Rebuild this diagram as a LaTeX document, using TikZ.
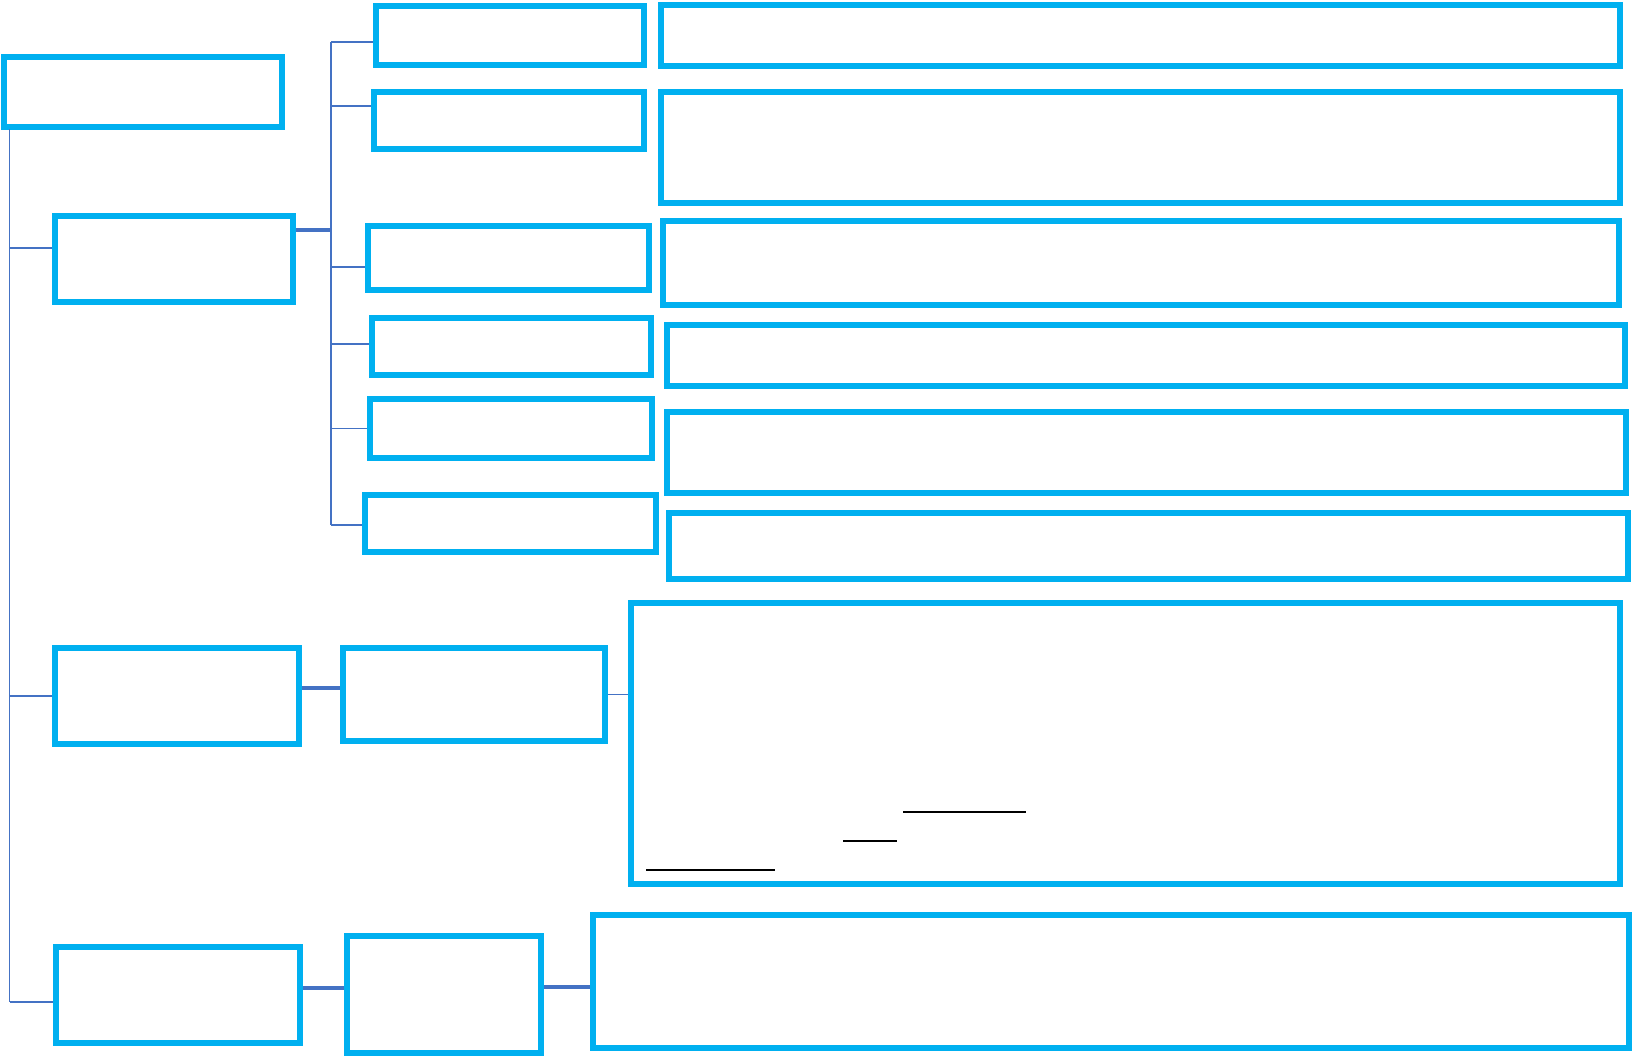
\documentclass[tikz,border=0pt]{standalone}
\usetikzlibrary{calc}
\definecolor{boxc}{HTML}{00B0F0}
\definecolor{linkc}{HTML}{4472C4}
\tikzset{
  box/.style={draw=boxc, line width=6pt, inner sep=0pt, fill=white},
  thinc/.style={draw=linkc, line width=1.4pt},
  thickc/.style={draw=linkc, line width=4pt},
  uline/.style={draw=black, line width=1.3pt}
}
\newcommand{\bx}[5]{%
  \pgfmathsetmacro{\bw}{#4-#2-6}%
  \pgfmathsetmacro{\bh}{#5-#3-6}%
  \pgfmathsetmacro{\bcx}{(#2+#4)/2}%
  \pgfmathsetmacro{\bcy}{(#3+#5)/2}%
  \node[box, minimum width=\bw pt, minimum height=\bh pt] (#1) at (\bcx,\bcy) {};%
}
\begin{document}
\begin{tikzpicture}[x=1pt,y=-1pt]
\useasboundingbox[fill=white] (0,0) rectangle (1634,1058);
\coordinate (tr) at (9.5,129);
\coordinate (br) at (331,42);
% boxes
\bx{root}{1}{54}{285}{130}
\bx{A1}{52}{213}{296}{305}
\bx{A2}{52}{645}{302}{747}
\bx{A3}{53}{944}{303}{1046}
\bx{B1}{373}{3}{647}{68}
\bx{B2}{371}{89}{647}{152}
\bx{B3}{365}{223}{652}{293}
\bx{B4}{369}{315}{654}{378}
\bx{B5}{367}{396}{655}{461}
\bx{B6}{362}{492}{659}{555}
\bx{C1}{658}{2}{1623}{69}
\bx{C2}{658}{89}{1623}{206}
\bx{C3}{660}{218}{1622}{308}
\bx{C4}{664}{322}{1628}{389}
\bx{C5}{664}{409}{1629}{496}
\bx{C6}{666}{510}{1631}{582}
\bx{D2}{340}{645}{608}{744}
\bx{E2}{628}{600}{1623}{887}
\bx{D3}{344}{933}{544}{1056}
\bx{E3}{590}{912}{1632}{1051}
% trunk and branches
\draw[thinc] (tr) -- ([yshift=-7pt]tr |- A3.west);
\draw[thinc] ([yshift=11pt]tr |- A1.west) -- ([yshift=11pt]A1.west);
\draw[thinc] (tr |- A2.west) -- (A2.west);
\draw[thinc] ([yshift=-7pt]tr |- A3.west) -- ([yshift=-7pt]A3.west);
% bracket for B boxes
\draw[thinc, line width=2.2pt] (br) -- ([yshift=-1.5pt]br |- B6.west);
\draw[thinc] (br) -- (B1.west |- br);
\draw[thinc] ([yshift=14.5pt]br |- B2.west) -- ([yshift=14.5pt]B2.west);
\draw[thinc] ([yshift=-9pt]br |- B3.west) -- ([yshift=-9pt]B3.west);
\draw[thinc] ([yshift=2.5pt]br |- B4.west) -- ([yshift=2.5pt]B4.west);
\draw[thinc] (br |- B5.west) -- (B5.west);
\draw[thinc] ([yshift=-1.5pt]br |- B6.west) -- ([yshift=-1.5pt]B6.west);
\draw[thickc] ([yshift=29pt]A1.east) -- ([yshift=29pt]A1.east -| br);
% second row
\draw[thickc] ([yshift=8pt]A2.east) -- ([yshift=8pt]A2.east -| D2.west);
\draw[thinc] (D2.east) -- (D2.east -| E2.west);
% third row
\draw[thickc] ([yshift=7pt]A3.east) -- ([yshift=7pt]A3.east -| D3.west);
\draw[thickc] ([yshift=8pt]D3.east) -- ([yshift=8pt]D3.east -| E3.west);
% underlines inside E2
\draw[uline] (903,812) -- (1026,812);
\draw[uline, line width=2pt] (843,841) -- (897,841);
\draw[uline] (646,870) -- (775,870);
\end{tikzpicture}
\end{document}
